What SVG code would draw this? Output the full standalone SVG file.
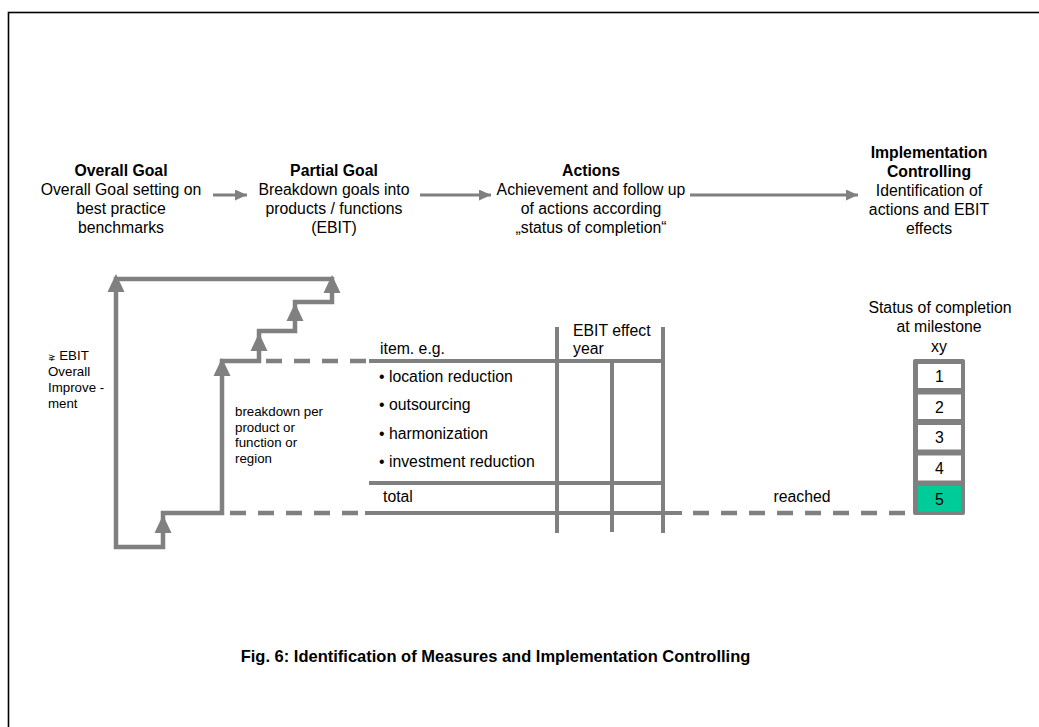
<svg xmlns="http://www.w3.org/2000/svg" width="1039" height="727" viewBox="0 0 1039 727">
<style>
text{font-family:"Liberation Sans",Arial,sans-serif;fill:#000}
.t{font-size:15.8px;text-anchor:middle}
.b{font-weight:bold}
.s{font-size:13.3px}
.tb{font-size:15.8px}
.g{stroke:#808080;fill:none}
.thick{stroke-width:4.5}
.dash{stroke-dasharray:16 12}
.ah{fill:#808080}
</style>
<defs>
<marker id="arr" markerWidth="12" markerHeight="11" refX="12" refY="5.5" orient="auto" markerUnits="userSpaceOnUse">
<path d="M0,0 L12,5.5 L0,11 Z" fill="#808080"/>
</marker>
<path id="up" d="M0,0 L8.5,18 L-8.5,18 Z" fill="#808080"/>
</defs>
<rect x="8.5" y="12.5" width="1100" height="800" fill="none" stroke="#000" stroke-width="1.6"/>

<g id="overall-goal">
<text class="t b" x="121" y="176">Overall Goal</text>
<text class="t" x="121" y="195">Overall Goal setting on</text>
<text class="t" x="121" y="214">best practice</text>
<text class="t" x="121" y="233">benchmarks</text>
</g>
<g id="partial-goal">
<text class="t b" x="334" y="176">Partial Goal</text>
<text class="t" x="334" y="195">Breakdown goals into</text>
<text class="t" x="334" y="214">products / functions</text>
<text class="t" x="334" y="233">(EBIT)</text>
</g>
<g id="actions">
<text class="t b" x="591" y="176">Actions</text>
<text class="t" x="591" y="195">Achievement and follow up</text>
<text class="t" x="591" y="214">of actions according</text>
<text class="t" x="591" y="233">„status of completion“</text>
</g>
<g id="implementation-controlling">
<text class="t b" x="929" y="158">Implementation</text>
<text class="t b" x="929" y="177">Controlling</text>
<text class="t" x="929" y="196">Identification of</text>
<text class="t" x="929" y="215">actions and EBIT</text>
<text class="t" x="929" y="234">effects</text>
</g>

<g id="connectors">
<line class="g" x1="213" y1="195" x2="247" y2="195" stroke-width="3" marker-end="url(#arr)"/>
<line class="g" x1="420" y1="195" x2="491" y2="195" stroke-width="3" marker-end="url(#arr)"/>
<line class="g" x1="690" y1="195" x2="858" y2="195" stroke-width="3" marker-end="url(#arr)"/>
</g>

<g id="staircase">
<path class="g thick" d="M116,547 V279 H332 V302 H295 V331 H259 V361 H222 V513 H163 V547 Z" stroke-linejoin="miter"/>
<use href="#up" x="116" y="274"/>
<use href="#up" x="332" y="275"/>
<use href="#up" x="295" y="303"/>
<use href="#up" x="259" y="333"/>
<use href="#up" x="222" y="358"/>
<use href="#up" x="163" y="515"/>
<line class="g thick dash" x1="266" y1="361" x2="368" y2="361"/>
<line class="g thick dash" x1="230" y1="513" x2="360" y2="513"/>
<line class="g thick dash" x1="693" y1="513" x2="913" y2="513"/>
</g>

<g id="left-labels">
<text class="s" x="48" y="360"><tspan font-family="DejaVu Sans" font-size="9">⋧</tspan> EBIT</text>
<text class="s" x="48" y="376">Overall</text>
<text class="s" x="48" y="392">Improve -</text>
<text class="s" x="48" y="408">ment</text>
<text class="s" x="235" y="416">breakdown per</text>
<text class="s" x="235" y="431.5">product or</text>
<text class="s" x="235" y="447">function or</text>
<text class="s" x="235" y="462.5">region</text>
</g>

<g id="table">
<line class="g" stroke-width="4" x1="369" y1="361" x2="665" y2="361"/>
<line class="g" stroke-width="4" x1="369" y1="483" x2="665" y2="483"/>
<line class="g" stroke-width="4" x1="365" y1="513" x2="682" y2="513"/>
<line class="g" stroke-width="4" x1="557" y1="327" x2="557" y2="533"/>
<line class="g" stroke-width="4" x1="612" y1="363" x2="612" y2="532"/>
<line class="g" stroke-width="4" x1="663" y1="327" x2="663" y2="533"/>
<text class="tb" x="380" y="354">item. e.g.</text>
<text class="tb" x="573" y="336">EBIT effect</text>
<text class="tb" x="573" y="354">year</text>
<text class="tb" x="379" y="382">• location reduction</text>
<text class="tb" x="379" y="410">• outsourcing</text>
<text class="tb" x="379" y="439">• harmonization</text>
<text class="tb" x="379" y="467">• investment reduction</text>
<text class="tb" x="383" y="502">total</text>
<text class="t" x="802" y="502">reached</text>
</g>

<g id="status">
<text class="t" x="940" y="313">Status of completion</text>
<text class="t" x="939" y="332">at milestone</text>
<text class="t" x="939" y="352">xy</text>
<rect x="913" y="359" width="52" height="156" rx="2" fill="#808080"/>
<rect x="918" y="364" width="43" height="24" fill="#fff"/>
<rect x="918" y="394.5" width="43" height="24.5" fill="#fff"/>
<rect x="918" y="425" width="43" height="24.5" fill="#fff"/>
<rect x="918" y="455.5" width="43" height="25" fill="#fff"/>
<rect x="918" y="486" width="43" height="25.5" fill="#00CC99"/>
<text class="t" x="939.5" y="382">1</text>
<text class="t" x="939.5" y="413">2</text>
<text class="t" x="939.5" y="443">3</text>
<text class="t" x="939.5" y="474">4</text>
<text class="t" x="939.5" y="505">5</text>
</g>

<g id="caption">
<text x="495.5" y="662" font-size="16.5" font-weight="bold" text-anchor="middle">Fig. 6: Identification of Measures and Implementation Controlling</text>
</g>
</svg>
